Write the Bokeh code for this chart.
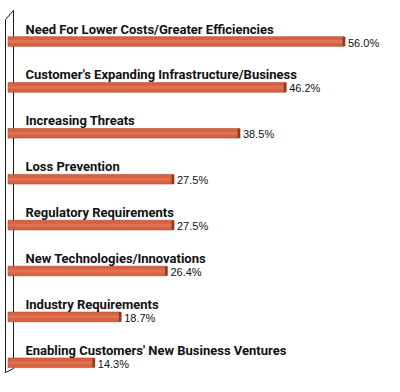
from bokeh.plotting import figure
from bokeh.models import Range1d, ColumnDataSource
from bokeh.embed import file_html
from bokeh.resources import INLINE
from bokeh.core.properties import value

categories = [
    "Need For Lower Costs/Greater Efficiencies",
    "Customer's Expanding Infrastructure/Business",
    "Increasing Threats",
    "Loss Prevention",
    "Regulatory Requirements",
    "New Technologies/Innovations",
    "Industry Requirements",
    "Enabling Customers' New Business Ventures",
]
values = [56.0, 46.2, 38.5, 27.5, 27.5, 26.4, 18.7, 14.3]
value_labels = ["56.0%", "46.2%", "38.5%", "27.5%", "27.5%", "26.4%", "18.7%", "14.3%"]

W, H = 384, 376
px_per_pct = 6.0
x0_px = 7.5
x_start = -x0_px / px_per_pct
x_end = x_start + W / px_per_pct
row_px = 45.9
row0_px = 41.0
y_top = -row0_px / row_px
y_bottom = y_top + H / row_px


def px2x(px):
    return x_start + px / px_per_pct


def px2y(py):
    return y_top + py / row_px


rows = list(range(len(categories)))
src = ColumnDataSource(dict(y=rows, v=values, cat=categories, lab=value_labels))

p = figure(width=W, height=H, x_range=Range1d(x_start, x_end),
           y_range=Range1d(y_bottom, y_top), output_backend="svg",
           toolbar_location=None, min_border=0,
           x_axis_location=None, y_axis_location=None)
p.grid.visible = False
p.outline_line_color = None
p.background_fill_color = "white"

# 3D wall frame
wall_color = "#1a1a1a"
p.line([px2x(5), px2x(5)], [px2y(19), px2y(372)], line_color=wall_color, line_width=1)
p.line([px2x(13), px2x(13)], [px2y(10), px2y(368)], line_color=wall_color, line_width=1)
p.line([px2x(5), px2x(13)], [px2y(19), px2y(10)], line_color=wall_color, line_width=1)
p.line([px2x(5), px2x(13)], [px2y(372), px2y(368)], line_color=wall_color, line_width=1)

# bars
p.hbar(y="y", left=0, right="v", height=0.21, source=src,
       fill_color="#d8623f", line_color="#a9472f", line_width=0.6)
p.hbar(y="y", left=0, right="v", height=0.06, source=src,
       fill_color="#e8876c", line_color=None, fill_alpha=0.45)
p.rect(x="v", y="y", width=0.45, height=0.21, source=src,
       fill_color="#8c3a26", line_color=None)

# category labels
p.text(x=0, y="y", text="cat", source=src, x_offset=17.5, y_offset=-12.5,
       text_font=value("Roboto"), text_font_style="bold", text_font_size="13px",
       text_color="#111111", text_baseline="alphabetic", text_align="left")

# value labels
p.text(x="v", y="y", text="lab", source=src, x_offset=4, y_offset=1,
       text_font=value("Liberation Sans"), text_font_size="11px",
       text_color="#111111", text_baseline="middle", text_align="left")

open("out.html", "w").write(file_html(p, INLINE))
